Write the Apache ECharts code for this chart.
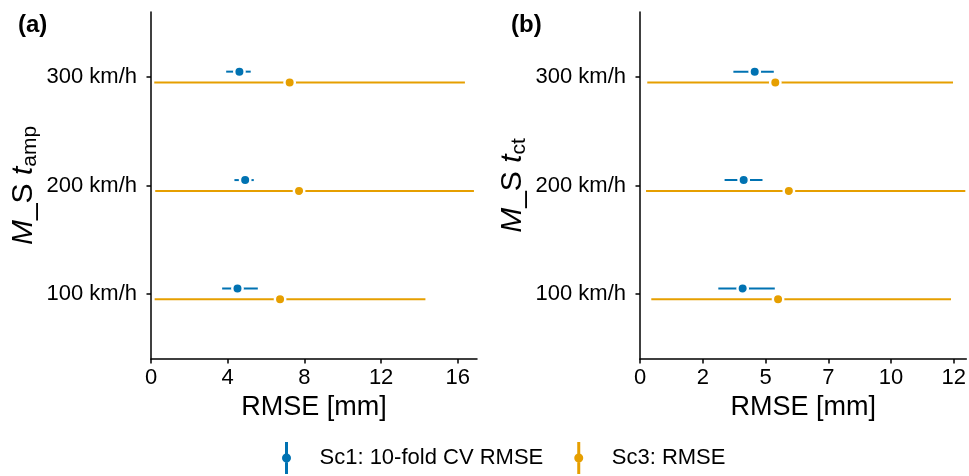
<!DOCTYPE html>
<html>
<head>
<meta charset="utf-8">
<script src="https://cdn.jsdelivr.net/npm/echarts@6/dist/echarts.min.js"></script>
<style>
html,body{margin:0;padding:0;background:#fff;}
#chart{width:969px;height:476px;}
</style>
</head>
<body>
<div id="chart"></div>
<script>
var speeds = ['100 km/h','200 km/h','300 km/h'];

// panel (a) M_St amp
var sc1A_rmse = [4.51, 4.91, 4.61];
var sc1A_low  = [3.71, 4.35, 3.92];
var sc1A_high = [5.57, 5.36, 5.20];
var sc3A_rmse = [6.73, 7.72, 7.23];
var sc3A_low  = [0.19, 0.22, 0.17];
var sc3A_high = [14.31, 16.84, 16.37];

// panel (b) M_St ct
var sc1B_rmse = [4.09, 4.13, 4.57];
var sc1B_low  = [3.12, 3.37, 3.72];
var sc1B_high = [5.37, 4.88, 5.33];
var sc3B_rmse = [5.50, 5.93, 5.39];
var sc3B_low  = [0.45, 0.24, 0.29];
var sc3B_high = [12.39, 12.96, 12.47];

var ticksA = [0, 4, 8, 12, 16];
var ticksB = [0, 2.5, 5, 7.5, 10, 12.5];

var BLUE = '#0072B2', ORANGE = '#E69F00';
var FONT = 'Liberation Sans';
var NAME1 = 'Sc1: 10-fold CV RMSE', NAME3 = 'Sc3: RMSE';

function rows(rmse, low, high){
	return speeds.map(function(s, i){
		return [rmse[i], i + 1, low[i], high[i]];
	});
}

function pointRange(color, dodge){
	return function(params, api){
		var y = api.value(1) + dodge;
		var p = api.coord([api.value(0), y]);
		var a = api.coord([api.value(2), y]);
		var b = api.coord([api.value(3), y]);
		return {
			type:'group',
			children:[
				{type:'line', shape:{x1:a[0], y1:a[1], x2:b[0], y2:b[1]}, style:{stroke:color, lineWidth:2}},
				{type:'circle', shape:{cx:p[0], cy:p[1], r:5.2}, style:{fill:color, stroke:'#fff', lineWidth:2.4}}
			]
		};
	};
}

function series(name, color, dodge, idx, data){
	return {
		name:name, type:'custom', xAxisIndex:idx, yAxisIndex:idx,
		itemStyle:{color:color},
		encode:{x:[0,2,3], y:1},
		renderItem:pointRange(color, dodge),
		data:data
	};
}

function xAxis(idx, max, ticks){
	return {
		type:'value', gridIndex:idx, min:0, max:max,
		name:'RMSE [mm]', nameLocation:'middle', nameGap:30,
		nameTextStyle:{fontFamily:FONT, fontSize:27, color:'#000'},
		axisLine:{lineStyle:{color:'#000', width:1.5}},
		axisTick:{customValues:ticks, length:4.5, lineStyle:{color:'#000', width:1.5}},
		axisLabel:{customValues:ticks, margin:8, fontFamily:FONT, fontSize:22, color:'#000',
			formatter:function(v){ return String(Math.trunc(v)); }},
		splitLine:{show:false}
	};
}

function yAxis(idx, sub){
	return {
		type:'value', gridIndex:idx, min:0.4, max:3.6,
		name:'{it|M}{up|_S }{it|t}{sub|' + sub + '}',
		nameLocation:'middle', nameGap:110,
		nameTextStyle:{
			color:'#000', fontFamily:FONT,
			rich:{
				it:{fontFamily:FONT, fontSize:30, fontStyle:'italic', color:'#000'},
				up:{fontFamily:FONT, fontSize:30, color:'#000'},
				sub:{fontFamily:FONT, fontSize:21, color:'#000', verticalAlign:'bottom', padding:[14,0,0,0]}
			}
		},
		axisLine:{lineStyle:{color:'#000', width:1.5}},
		axisTick:{customValues:[1,2,3], length:4.5, lineStyle:{color:'#000', width:1.5}},
		axisLabel:{customValues:[1,2,3], margin:14, fontFamily:FONT, fontSize:22, color:'#000',
			formatter:function(v){ return speeds[Math.round(v) - 1]; }},
		splitLine:{show:false}
	};
}

var chart = echarts.init(document.getElementById('chart'));
var option = {
	backgroundColor:'#fff',
	animation:false,
	title:[
		{text:'(a)', left:13, top:8, textStyle:{fontFamily:FONT, fontSize:24, fontWeight:'bold', color:'#000'}},
		{text:'(b)', left:506, top:8, textStyle:{fontFamily:FONT, fontSize:24, fontWeight:'bold', color:'#000'}}
	],
	legend:{
		left:277, top:437, itemWidth:56, itemHeight:32, itemGap:31,
		icon:'path://M3,0 H6 V32 H3 Z M0,16 A4.5,4.5 0 1,1 9,16 A4.5,4.5 0 1,1 0,16 Z',
		textStyle:{fontFamily:FONT, fontSize:22, color:'#000'},
		data:[NAME1, NAME3]
	},
	grid:[
		{left:151, top:12, width:326, height:347},
		{left:640, top:12, width:329, height:347}
	],
	xAxis:[xAxis(0, 17, ticksA), xAxis(1, 13, ticksB)],
	yAxis:[yAxis(0, 'amp'), yAxis(1, 'ct')],
	series:[
		series(NAME1, BLUE, 0.05, 0, rows(sc1A_rmse, sc1A_low, sc1A_high)),
		series(NAME3, ORANGE, -0.05, 0, rows(sc3A_rmse, sc3A_low, sc3A_high)),
		series(NAME1, BLUE, 0.05, 1, rows(sc1B_rmse, sc1B_low, sc1B_high)),
		series(NAME3, ORANGE, -0.05, 1, rows(sc3B_rmse, sc3B_low, sc3B_high))
	]
};
chart.setOption(option);
</script>
</body>
</html>
